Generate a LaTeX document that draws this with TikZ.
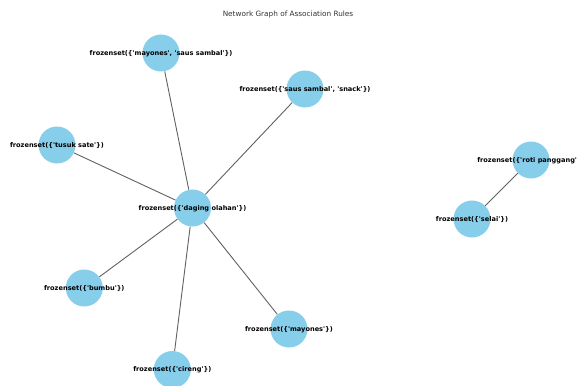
\documentclass[tikz,border=0pt]{standalone}
\usepackage{fontspec}
\setmainfont{DejaVu Sans}[Ligatures=TeXOff]
\usetikzlibrary{backgrounds}
\definecolor{skyblue}{HTML}{87CEEB}
\begin{document}
\begin{tikzpicture}[x=1pt,y=-1pt,
  vertex/.style={circle,fill=skyblue,draw=none,minimum size=37pt,inner sep=0pt},
  lbl/.style={font=\fontsize{6.6}{7}\selectfont\bfseries,text=black,inner sep=0pt,yshift=-0.6pt},
  edge/.style={draw=black!62,line width=0.9pt}]
\useasboundingbox (0,0) rectangle (577,385);
\clip (0,0) rectangle (577,385);
\node[font=\fontsize{7.3}{8}\selectfont,text=black!80] (title) at (288,14) {Network Graph of Association Rules};
\node[vertex,label={[lbl]center:frozenset(\{'mayones', 'saus sambal'\})}] (ms) at (161,53) {};
\node[vertex,label={[lbl]center:frozenset(\{'saus sambal', 'snack'\})}] (ss) at (305,89) {};
\node[vertex,label={[lbl]center:frozenset(\{'tusuk sate'\})}] (ts) at (57,145) {};
\node[vertex,label={[lbl]center:frozenset(\{'daging olahan'\})}] (do) at (192.5,208) {};
\node[vertex,label={[lbl]center:frozenset(\{'roti panggang'\})}] (rp) at (531,160) {};
\node[vertex,label={[lbl]center:frozenset(\{'selai'\})}] (se) at (472,219) {};
\node[vertex,label={[lbl]center:frozenset(\{'bumbu'\})}] (bu) at (84.3,288) {};
\node[vertex,label={[lbl]center:frozenset(\{'mayones'\})}] (my) at (289,329) {};
\node[vertex,label={[lbl]center:frozenset(\{'cireng'\})}] (ci) at (172.3,369.5) {};
\begin{scope}[on background layer]
\fill[white] (0,0) rectangle (577,385);
\draw[edge] (do) -- (ms);
\draw[edge] (do) -- (ss);
\draw[edge] (do) -- (ts);
\draw[edge] (do) -- (bu);
\draw[edge] (do) -- (ci);
\draw[edge] (do) -- (my);
\draw[edge] (rp) -- (se);
\end{scope}
\end{tikzpicture}
\end{document}
